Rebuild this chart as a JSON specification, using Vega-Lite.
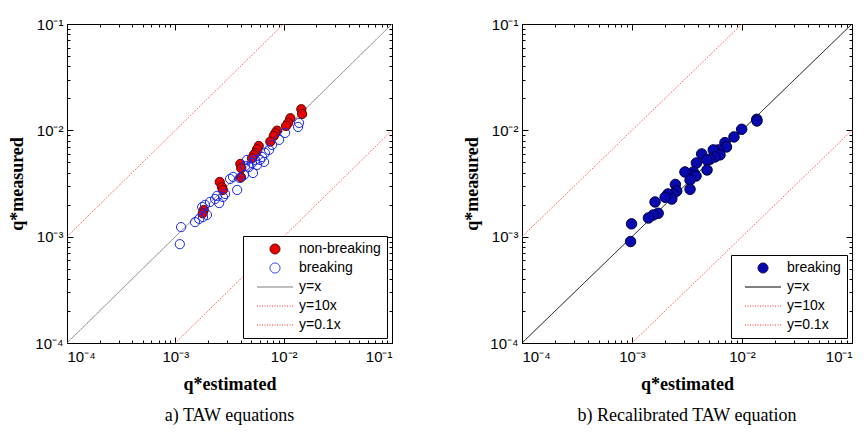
{
  "$schema": "https://vega.github.io/schema/vega-lite/v6.json",
  "padding": {"left": 8, "top": 16, "right": 5, "bottom": 5},
  "background": "white",
  "config": {
    "view": {"stroke": "black", "strokeWidth": 1},
    "axis": {
      "grid": false,
      "domainColor": "black",
      "tickColor": "black",
      "labelColor": "black",
      "labelFont": "Liberation Sans",
      "labelFontSize": 15,
      "labelOverlap": false,
      "titleFont": "Liberation Serif",
      "titleFontSize": 18,
      "titleFontWeight": "bold",
      "titleColor": "black"
    },
    "legend": {
      "title": null,
      "orient": "bottom-right",
      "offset": 5,
      "strokeColor": "black",
      "fillColor": "white",
      "padding": 6,
      "labelFont": "Liberation Sans",
      "labelFontSize": 14,
      "labelColor": "black",
      "symbolSize": 100,
      "symbolStrokeWidth": 1,
      "symbolOffset": 19,
      "labelOffset": 17,
      "rowPadding": 5
    },
    "title": {"font": "Liberation Serif", "fontSize": 18, "fontWeight": "normal", "color": "black"}
  },
  "resolve": {"scale": {"fill": "independent", "stroke": "independent", "shape": "independent", "strokeDash": "independent"}},
  "spacing": 70,
  "hconcat": [
    {
      "width": 325,
      "height": 319,
      "title": {"text": "a) TAW equations", "orient": "bottom", "offset": 14},
      "resolve": {"axis": {"x": "independent", "y": "independent"}},
      "layer": [
        {
          "data": {"values": [
            {"x": 0.0001, "y": 0.0001, "series": "y=x"},
            {"x": 0.1, "y": 0.1, "series": "y=x"},
            {"x": 0.0001, "y": 0.001, "series": "y=10x"},
            {"x": 0.01, "y": 0.1, "series": "y=10x"},
            {"x": 0.001, "y": 0.0001, "series": "y=0.1x"},
            {"x": 0.1, "y": 0.01, "series": "y=0.1x"}
          ]},
          "mark": {"type": "line", "strokeWidth": 1, "clip": true},
          "encoding": {
            "x": {"field": "x", "type": "quantitative", "scale": {"type": "log", "domain": [0.0001, 0.1], "nice": false},
              "axis": {"orient": "top", "labels": false, "title": null, "domain": false,
                "values": [0.0001,0.0002,0.0003,0.0004,0.0005,0.0006,0.0007,0.0008,0.0009,0.001,0.002,0.003,0.004,0.005,0.006,0.007,0.008,0.009,0.01,0.02,0.03,0.04,0.05,0.06,0.07,0.08,0.09,0.1],
                "tickSize": {"condition": {"test": "abs(log(datum.value)/LN10 - round(log(datum.value)/LN10)) < 0.01", "value": -6}, "value": -3}}},
            "y": {"field": "y", "type": "quantitative", "scale": {"type": "log", "domain": [0.0001, 0.1], "nice": false},
              "axis": {"orient": "right", "labels": false, "title": null, "domain": false,
                "values": [0.0001,0.0002,0.0003,0.0004,0.0005,0.0006,0.0007,0.0008,0.0009,0.001,0.002,0.003,0.004,0.005,0.006,0.007,0.008,0.009,0.01,0.02,0.03,0.04,0.05,0.06,0.07,0.08,0.09,0.1],
                "tickSize": {"condition": {"test": "abs(log(datum.value)/LN10 - round(log(datum.value)/LN10)) < 0.01", "value": -6}, "value": -3}}},
            "detail": {"field": "series"},
            "stroke": {"field": "series", "type": "nominal",
              "scale": {"domain": ["non-breaking", "breaking", "y=x", "y=10x", "y=0.1x"], "range": ["#600000", "#1c28e6", "#7f7f7f", "#ff3030", "#ff3030"]}},
            "strokeDash": {"field": "series", "type": "nominal",
              "scale": {"domain": ["non-breaking", "breaking", "y=x", "y=10x", "y=0.1x"], "range": [[1, 0], [1, 0], [1, 0], [1, 1.5], [1, 1.5]]}}
          }
        },
        {
          "data": {"values": [
            {"x": 0.01455, "y": 0.0158, "series": "non-breaking"},
            {"x": 0.0148, "y": 0.01425, "series": "non-breaking"},
            {"x": 0.01153, "y": 0.013, "series": "non-breaking"},
            {"x": 0.011, "y": 0.01175, "series": "non-breaking"},
            {"x": 0.01052, "y": 0.011, "series": "non-breaking"},
            {"x": 0.00869, "y": 0.00993, "series": "non-breaking"},
            {"x": 0.00838, "y": 0.0094, "series": "non-breaking"},
            {"x": 0.0081, "y": 0.00885, "series": "non-breaking"},
            {"x": 0.00753, "y": 0.00783, "series": "non-breaking"},
            {"x": 0.00589, "y": 0.00713, "series": "non-breaking"},
            {"x": 0.00568, "y": 0.00663, "series": "non-breaking"},
            {"x": 0.00548, "y": 0.0061, "series": "non-breaking"},
            {"x": 0.0053, "y": 0.00587, "series": "non-breaking"},
            {"x": 0.0051, "y": 0.00546, "series": "non-breaking"},
            {"x": 0.00398, "y": 0.00483, "series": "non-breaking"},
            {"x": 0.00406, "y": 0.0044, "series": "non-breaking"},
            {"x": 0.00404, "y": 0.00362, "series": "non-breaking"},
            {"x": 0.00257, "y": 0.00327, "series": "non-breaking"},
            {"x": 0.0027, "y": 0.00292, "series": "non-breaking"},
            {"x": 0.00275, "y": 0.00275, "series": "non-breaking"},
            {"x": 0.00183, "y": 0.00178, "series": "non-breaking"},
            {"x": 0.00179, "y": 0.00166, "series": "non-breaking"},
            {"x": 0.01387, "y": 0.01175, "series": "breaking"},
            {"x": 0.01358, "y": 0.01076, "series": "breaking"},
            {"x": 0.0103, "y": 0.00946, "series": "breaking"},
            {"x": 0.00908, "y": 0.00813, "series": "breaking"},
            {"x": 0.00782, "y": 0.0073, "series": "breaking"},
            {"x": 0.00733, "y": 0.00655, "series": "breaking"},
            {"x": 0.00673, "y": 0.00612, "series": "breaking"},
            {"x": 0.00632, "y": 0.00562, "series": "breaking"},
            {"x": 0.00605, "y": 0.00527, "series": "breaking"},
            {"x": 0.00544, "y": 0.00527, "series": "breaking"},
            {"x": 0.0051, "y": 0.00493, "series": "breaking"},
            {"x": 0.00459, "y": 0.00527, "series": "breaking"},
            {"x": 0.00441, "y": 0.00462, "series": "breaking"},
            {"x": 0.00659, "y": 0.00505, "series": "breaking"},
            {"x": 0.00521, "y": 0.00397, "series": "breaking"},
            {"x": 0.0043, "y": 0.0038, "series": "breaking"},
            {"x": 0.00395, "y": 0.00356, "series": "breaking"},
            {"x": 0.00341, "y": 0.00365, "series": "breaking"},
            {"x": 0.0032, "y": 0.00349, "series": "breaking"},
            {"x": 0.00372, "y": 0.00275, "series": "breaking"},
            {"x": 0.00288, "y": 0.00252, "series": "breaking"},
            {"x": 0.00275, "y": 0.00236, "series": "breaking"},
            {"x": 0.00243, "y": 0.00242, "series": "breaking"},
            {"x": 0.00254, "y": 0.00207, "series": "breaking"},
            {"x": 0.00233, "y": 0.00226, "series": "breaking"},
            {"x": 0.00209, "y": 0.00212, "series": "breaking"},
            {"x": 0.00188, "y": 0.00199, "series": "breaking"},
            {"x": 0.00177, "y": 0.0019, "series": "breaking"},
            {"x": 0.00196, "y": 0.0016, "series": "breaking"},
            {"x": 0.0018, "y": 0.00153, "series": "breaking"},
            {"x": 0.00166, "y": 0.00147, "series": "breaking"},
            {"x": 0.00152, "y": 0.00137, "series": "breaking"},
            {"x": 0.00113, "y": 0.00123, "series": "breaking"},
            {"x": 0.0011, "y": 0.00085, "series": "breaking"},
            {"x": 0.0048, "y": 0.00453, "series": "breaking"},
            {"x": 0.00568, "y": 0.00473, "series": "breaking"}
          ]},
          "mark": {"type": "point", "size": 85, "opacity": 1, "strokeWidth": 1},
          "encoding": {
            "x": {"field": "x", "type": "quantitative", "scale": {"type": "log", "domain": [0.0001, 0.1], "nice": false},
              "axis": {"orient": "bottom", "title": "q*estimated", "titlePadding": 8,
                "values": [0.0001,0.0002,0.0003,0.0004,0.0005,0.0006,0.0007,0.0008,0.0009,0.001,0.002,0.003,0.004,0.005,0.006,0.007,0.008,0.009,0.01,0.02,0.03,0.04,0.05,0.06,0.07,0.08,0.09,0.1],
                "labelExpr": "abs(log(datum.value)/LN10 - round(log(datum.value)/LN10)) > 0.01 ? '' : '10' + replace(replace(replace(replace(replace(toString(round(log(datum.value)/LN10)), '-', '⁻'), '1', '¹'), '2', '²'), '3', '³'), '4', '⁴')",
                "tickSize": {"condition": {"test": "abs(log(datum.value)/LN10 - round(log(datum.value)/LN10)) < 0.01", "value": -6}, "value": -3},
                "labelPadding": 12}},
            "y": {"field": "y", "type": "quantitative", "scale": {"type": "log", "domain": [0.0001, 0.1], "nice": false},
              "axis": {"orient": "left", "title": "q*measured", "titlePadding": 8,
                "values": [0.0001,0.0002,0.0003,0.0004,0.0005,0.0006,0.0007,0.0008,0.0009,0.001,0.002,0.003,0.004,0.005,0.006,0.007,0.008,0.009,0.01,0.02,0.03,0.04,0.05,0.06,0.07,0.08,0.09,0.1],
                "labelExpr": "abs(log(datum.value)/LN10 - round(log(datum.value)/LN10)) > 0.01 ? '' : '10' + replace(replace(replace(replace(replace(toString(round(log(datum.value)/LN10)), '-', '⁻'), '1', '¹'), '2', '²'), '3', '³'), '4', '⁴')",
                "tickSize": {"condition": {"test": "abs(log(datum.value)/LN10 - round(log(datum.value)/LN10)) < 0.01", "value": -6}, "value": -3},
                "labelPadding": 10}},
            "fill": {"field": "series", "type": "nominal",
              "scale": {"domain": ["non-breaking", "breaking", "y=x", "y=10x", "y=0.1x"], "range": ["#e60000", "transparent", "transparent", "transparent", "transparent"]}},
            "stroke": {"field": "series", "type": "nominal",
              "scale": {"domain": ["non-breaking", "breaking", "y=x", "y=10x", "y=0.1x"], "range": ["#600000", "#1c28e6", "#7f7f7f", "#ff3030", "#ff3030"]}},
            "shape": {"field": "series", "type": "nominal",
              "scale": {"domain": ["non-breaking", "breaking", "y=x", "y=10x", "y=0.1x"], "range": ["circle", "circle", "M-3.6,0H3.6", "M-3.6,0H3.6", "M-3.6,0H3.6"]}}
          }
        }
      ]
    },
    {
      "width": 330,
      "height": 319,
      "title": {"text": "b) Recalibrated TAW equation", "orient": "bottom", "offset": 14},
      "resolve": {"axis": {"x": "independent", "y": "independent"}},
      "layer": [
        {
          "data": {"values": [
            {"x": 0.0001, "y": 0.0001, "series": "y=x"},
            {"x": 0.1, "y": 0.1, "series": "y=x"},
            {"x": 0.0001, "y": 0.001, "series": "y=10x"},
            {"x": 0.01, "y": 0.1, "series": "y=10x"},
            {"x": 0.001, "y": 0.0001, "series": "y=0.1x"},
            {"x": 0.1, "y": 0.01, "series": "y=0.1x"}
          ]},
          "mark": {"type": "line", "strokeWidth": 1, "clip": true},
          "encoding": {
            "x": {"field": "x", "type": "quantitative", "scale": {"type": "log", "domain": [0.0001, 0.1], "nice": false},
              "axis": {"orient": "top", "labels": false, "title": null, "domain": false,
                "values": [0.0001,0.0002,0.0003,0.0004,0.0005,0.0006,0.0007,0.0008,0.0009,0.001,0.002,0.003,0.004,0.005,0.006,0.007,0.008,0.009,0.01,0.02,0.03,0.04,0.05,0.06,0.07,0.08,0.09,0.1],
                "tickSize": {"condition": {"test": "abs(log(datum.value)/LN10 - round(log(datum.value)/LN10)) < 0.01", "value": -6}, "value": -3}}},
            "y": {"field": "y", "type": "quantitative", "scale": {"type": "log", "domain": [0.0001, 0.1], "nice": false},
              "axis": {"orient": "right", "labels": false, "title": null, "domain": false,
                "values": [0.0001,0.0002,0.0003,0.0004,0.0005,0.0006,0.0007,0.0008,0.0009,0.001,0.002,0.003,0.004,0.005,0.006,0.007,0.008,0.009,0.01,0.02,0.03,0.04,0.05,0.06,0.07,0.08,0.09,0.1],
                "tickSize": {"condition": {"test": "abs(log(datum.value)/LN10 - round(log(datum.value)/LN10)) < 0.01", "value": -6}, "value": -3}}},
            "detail": {"field": "series"},
            "stroke": {"field": "series", "type": "nominal",
              "scale": {"domain": ["breaking", "y=x", "y=10x", "y=0.1x"], "range": ["#000040", "#000000", "#ff3030", "#ff3030"]}},
            "strokeDash": {"field": "series", "type": "nominal",
              "scale": {"domain": ["breaking", "y=x", "y=10x", "y=0.1x"], "range": [[1, 0], [1, 0], [1, 1.5], [1, 1.5]]}}
          }
        },
        {
          "data": {"values": [
            {"x": 0.01362, "y": 0.0127, "series": "breaking"},
            {"x": 0.01368, "y": 0.01225, "series": "breaking"},
            {"x": 0.00993, "y": 0.01023, "series": "breaking"},
            {"x": 0.00845, "y": 0.00867, "series": "breaking"},
            {"x": 0.007, "y": 0.00766, "series": "breaking"},
            {"x": 0.00723, "y": 0.00698, "series": "breaking"},
            {"x": 0.0061, "y": 0.00655, "series": "breaking"},
            {"x": 0.00548, "y": 0.00655, "series": "breaking"},
            {"x": 0.00631, "y": 0.00588, "series": "breaking"},
            {"x": 0.00569, "y": 0.00562, "series": "breaking"},
            {"x": 0.00512, "y": 0.00535, "series": "breaking"},
            {"x": 0.0043, "y": 0.006, "series": "breaking"},
            {"x": 0.00478, "y": 0.00527, "series": "breaking"},
            {"x": 0.00481, "y": 0.00424, "series": "breaking"},
            {"x": 0.00385, "y": 0.00493, "series": "breaking"},
            {"x": 0.00361, "y": 0.00406, "series": "breaking"},
            {"x": 0.00337, "y": 0.0038, "series": "breaking"},
            {"x": 0.00382, "y": 0.00372, "series": "breaking"},
            {"x": 0.00303, "y": 0.00406, "series": "breaking"},
            {"x": 0.00337, "y": 0.00341, "series": "breaking"},
            {"x": 0.00337, "y": 0.00279, "series": "breaking"},
            {"x": 0.00248, "y": 0.0031, "series": "breaking"},
            {"x": 0.00255, "y": 0.00269, "series": "breaking"},
            {"x": 0.00236, "y": 0.00252, "series": "breaking"},
            {"x": 0.00212, "y": 0.00252, "series": "breaking"},
            {"x": 0.0023, "y": 0.00226, "series": "breaking"},
            {"x": 0.002, "y": 0.00235, "series": "breaking"},
            {"x": 0.00162, "y": 0.00212, "series": "breaking"},
            {"x": 0.00173, "y": 0.00166, "series": "breaking"},
            {"x": 0.00156, "y": 0.0016, "series": "breaking"},
            {"x": 0.00141, "y": 0.0015, "series": "breaking"},
            {"x": 0.00099, "y": 0.00132, "series": "breaking"},
            {"x": 0.00097, "y": 0.0009, "series": "breaking"}
          ]},
          "mark": {"type": "point", "size": 110, "opacity": 1, "strokeWidth": 1},
          "encoding": {
            "x": {"field": "x", "type": "quantitative", "scale": {"type": "log", "domain": [0.0001, 0.1], "nice": false},
              "axis": {"orient": "bottom", "title": "q*estimated", "titlePadding": 8,
                "values": [0.0001,0.0002,0.0003,0.0004,0.0005,0.0006,0.0007,0.0008,0.0009,0.001,0.002,0.003,0.004,0.005,0.006,0.007,0.008,0.009,0.01,0.02,0.03,0.04,0.05,0.06,0.07,0.08,0.09,0.1],
                "labelExpr": "abs(log(datum.value)/LN10 - round(log(datum.value)/LN10)) > 0.01 ? '' : '10' + replace(replace(replace(replace(replace(toString(round(log(datum.value)/LN10)), '-', '⁻'), '1', '¹'), '2', '²'), '3', '³'), '4', '⁴')",
                "tickSize": {"condition": {"test": "abs(log(datum.value)/LN10 - round(log(datum.value)/LN10)) < 0.01", "value": -6}, "value": -3},
                "labelPadding": 12}},
            "y": {"field": "y", "type": "quantitative", "scale": {"type": "log", "domain": [0.0001, 0.1], "nice": false},
              "axis": {"orient": "left", "title": "q*measured", "titlePadding": 8,
                "values": [0.0001,0.0002,0.0003,0.0004,0.0005,0.0006,0.0007,0.0008,0.0009,0.001,0.002,0.003,0.004,0.005,0.006,0.007,0.008,0.009,0.01,0.02,0.03,0.04,0.05,0.06,0.07,0.08,0.09,0.1],
                "labelExpr": "abs(log(datum.value)/LN10 - round(log(datum.value)/LN10)) > 0.01 ? '' : '10' + replace(replace(replace(replace(replace(toString(round(log(datum.value)/LN10)), '-', '⁻'), '1', '¹'), '2', '²'), '3', '³'), '4', '⁴')",
                "tickSize": {"condition": {"test": "abs(log(datum.value)/LN10 - round(log(datum.value)/LN10)) < 0.01", "value": -6}, "value": -3},
                "labelPadding": 10}},
            "fill": {"field": "series", "type": "nominal",
              "scale": {"domain": ["breaking", "y=x", "y=10x", "y=0.1x"], "range": ["#0808b0", "transparent", "transparent", "transparent"]}},
            "stroke": {"field": "series", "type": "nominal",
              "scale": {"domain": ["breaking", "y=x", "y=10x", "y=0.1x"], "range": ["#000040", "#000000", "#ff3030", "#ff3030"]}},
            "shape": {"field": "series", "type": "nominal",
              "scale": {"domain": ["breaking", "y=x", "y=10x", "y=0.1x"], "range": ["circle", "M-3.6,0H3.6", "M-3.6,0H3.6", "M-3.6,0H3.6"]}}
          }
        }
      ]
    }
  ]
}
